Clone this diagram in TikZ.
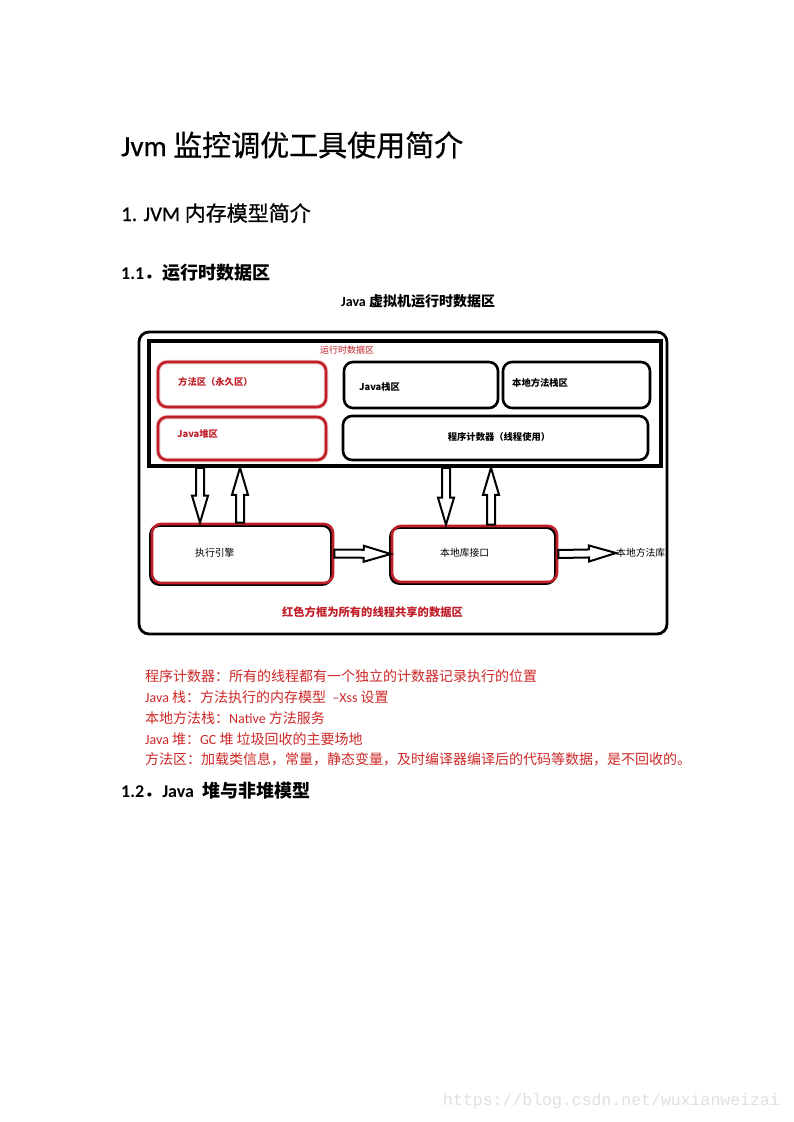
\documentclass[tikz,border=0pt]{standalone}
\usepackage{fontspec}
\setmainfont{Noto Sans CJK SC}
\newfontfamily\lat{Carlito}
\newfontfamily\headfont[FakeBold=0.6]{Noto Sans CJK SC}
\newfontfamily\headlat[FakeBold=0.6]{Carlito}
\newfontfamily\urlfont{Liberation Mono}
\usetikzlibrary{arrows.meta, calc}
\definecolor{boxred}{RGB}{192,30,40}
\definecolor{notered}{RGB}{206,40,40}
\definecolor{markgray}{RGB}{224,224,224}

\newcommand{\blockarrow}[2]{%
  \draw[hollow] let \p1=(#1), \p2=(#2), \n1={atan2(\y2-\y1,\x2-\x1)}, \n2={veclen(\x2-\x1,\y2-\y1)} in
    [shift={(\p1)}, rotate=\n1] (0,-4) -- (\n2-27,-4) -- (\n2-27,-8) -- (\n2,0) -- (\n2-27,8) -- (\n2-27,4) -- (0,4) -- cycle;}

\begin{document}
\begin{tikzpicture}[x=1pt, y=-1pt, every node/.style={inner sep=0pt},
  txt/.style={anchor=west},
  frame/.style={draw, line width=2.8pt, rounded corners=10pt},
  box/.style={draw, line width=2.6pt, rounded corners=9pt},
  redbox/.style={box, draw=boxred, preaction={draw=boxred!25, line width=4.5pt}},
  shadebox/.style={box, draw=boxred, preaction={draw=black, line width=2.6pt, transform canvas={shift={(-1.6pt,-1.6pt)}}}},
  boxlbl/.style={font=\bfseries\fontsize{9.3}{11}\selectfont},
  plainlbl/.style={txt, font=\fontsize{9.8}{11}\selectfont},
  note/.style={txt, text=notered, font=\fontsize{14}{16}\selectfont},
  hollow/.style={draw, line width=2pt, line join=miter}]
  \useasboundingbox (0,0) rectangle (793,1122);
  \fill[white] (0,0) rectangle (793,1122);

  % headings
  \node[txt, font=\headfont\fontsize{29}{34}\selectfont] (title) at (121,145) {{\headlat Jvm} 监控调优工具使用简介};
  \node[txt, font=\headfont\fontsize{21}{25}\selectfont] (sec1) at (121,213) {{\headlat 1. JVM} 内存模型简介};
  \node[txt, font=\bfseries\fontsize{18}{21}\selectfont] (sec11) at (121,273) {{\lat 1.1}．运行时数据区};
  \node[txt, font=\bfseries\fontsize{14}{16}\selectfont] (caption) at (341,301) {{\lat Java} 虚拟机运行时数据区};

  % runtime data area
  \node[frame, minimum width=528, minimum height=302] (jvm) at (403,483) {};
  \node[draw, line width=3.5pt, minimum width=512, minimum height=125] (rt) at (405,403.5) {};
  \node[text=boxred, font=\fontsize{9}{10}\selectfont] (rtname) at (347,350) {运行时数据区};
  \node[redbox, minimum width=168, minimum height=45] (meth) at (242,384.5) {};
  \node[redbox, minimum width=168, minimum height=43] (heap) at (242,438.5) {};
  \node[box, minimum width=154, minimum height=46] (jstack) at (421,385) {};
  \node[box, minimum width=147, minimum height=46] (nstack) at (576.5,385) {};
  \node[box, minimum width=305, minimum height=44] (pc) at (495.5,438) {};
  \node[txt, boxlbl, text=boxred] (methname) at (178,382) {方法区（永久区）};
  \node[txt, boxlbl, text=boxred] (heapname) at (177,434) {Java堆区};
  \node[txt, boxlbl] (jstackname) at (359,387) {Java栈区};
  \node[txt, boxlbl] (nstackname) at (512,383) {本地方法栈区};
  \node[boxlbl] (pcname) at (499,437) {程序计数器（线程使用）};

  % engine and native interface
  \node[shadebox, minimum width=181, minimum height=59] (eng) at (242.5,553.5) {};
  \node[shadebox, minimum width=165, minimum height=56] (nif) at (474.5,554) {};
  \node[plainlbl] (engname) at (195,553) {执行引擎};
  \node[plainlbl] (nifname) at (440,553) {本地库接口};
  \node[plainlbl] (lib) at (616,553) {本地方法库};
  \node[text=boxred, font=\bfseries\fontsize{11.3}{13}\selectfont] (shared) at (372.5,612) {红色方框为所有的线程共享的数据区};

  \blockarrow{$(eng.north|-rt.south)+(-42.5,0)$}{$(eng.north)+(-42.5,0)$}
  \blockarrow{$(eng.north)+(-2.5,0)$}{$(eng.north|-rt.south)+(-2.5,0)$}
  \blockarrow{$(nif.north|-rt.south)+(-28.5,0)$}{$(nif.north)+(-28.5,0)$}
  \blockarrow{$(nif.north)+(16.5,0)$}{$(nif.north|-rt.south)+(16.5,0)$}
  \blockarrow{eng.east}{nif.west}
  \blockarrow{nif.east}{lib.west}

  % notes
  \node[note] (n1) at (145,676) {程序计数器：所有的线程都有一个独立的计数器记录执行的位置};
  \node[note] (n2) at (145,697) {{\lat Java} 栈：方法执行的内存模型\ \ {\lat –Xss} 设置};
  \node[note] (n3) at (145,718) {本地方法栈：{\lat Native} 方法服务};
  \node[note] (n4) at (145,739) {{\lat Java} 堆：{\lat GC} 堆\ 垃圾回收的主要场地};
  \node[note] (n5) at (145,759) {方法区：加载类信息，常量，静态变量，及时编译器编译后的代码等数据，是不回收的。};

  \node[txt, font=\bfseries\fontsize{18}{21}\selectfont] (sec12) at (121,791) {{\lat 1.2}．{\lat Java}\ \ 堆与非堆模型};
  \node[txt, text=markgray, font=\urlfont\fontsize{16.5}{18}\selectfont] (mark) at (443,1101) {https://blog.csdn.net/wuxianweizai};
\end{tikzpicture}
\end{document}
